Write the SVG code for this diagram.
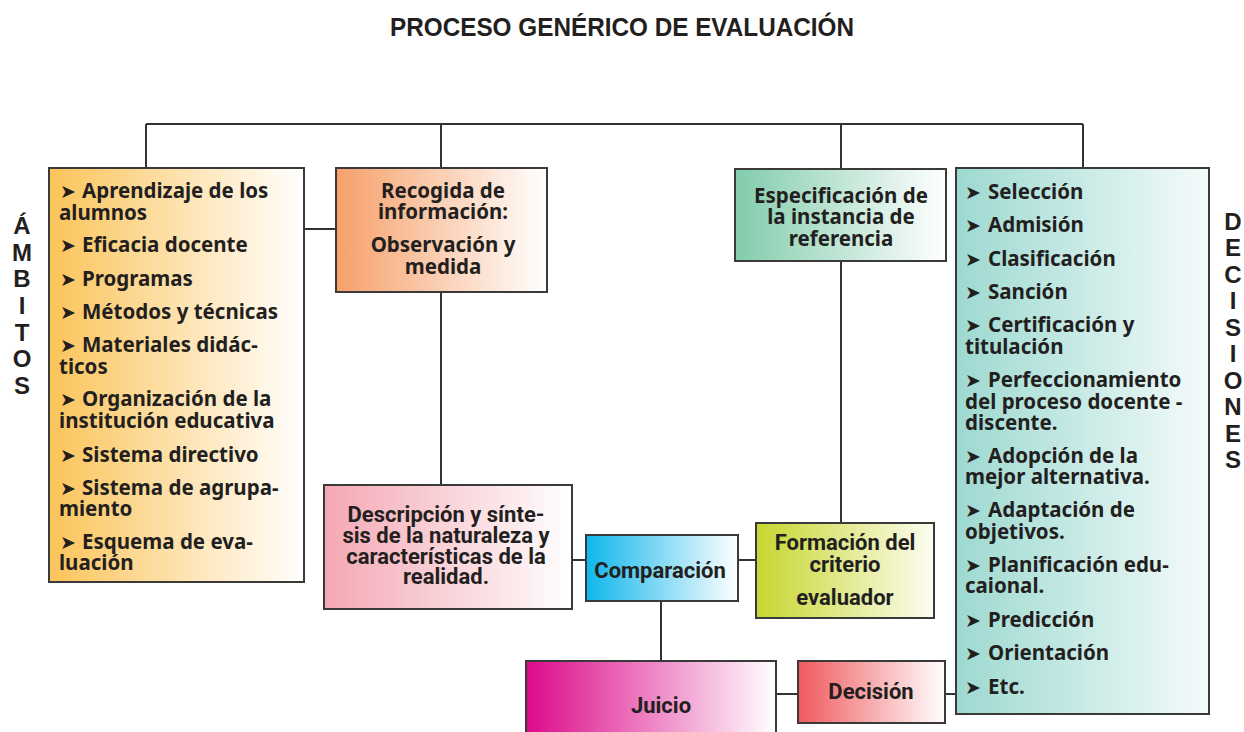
<svg xmlns="http://www.w3.org/2000/svg" width="1244" height="732" viewBox="0 0 1244 732">
<defs>
<linearGradient id="gAmb" x1="0" y1="0" x2="1" y2="0"><stop offset="0" stop-color="#FBC45A"/><stop offset="1" stop-color="#FFFFFF"/></linearGradient>
<linearGradient id="gRec" x1="0" y1="0" x2="1" y2="0"><stop offset="0" stop-color="#F6A06A"/><stop offset="1" stop-color="#FFFFFF"/></linearGradient>
<linearGradient id="gEsp" x1="0" y1="0" x2="1" y2="0"><stop offset="0" stop-color="#82CCAC"/><stop offset="1" stop-color="#FFFFFF"/></linearGradient>
<linearGradient id="gDec" x1="0" y1="0" x2="1" y2="0"><stop offset="0" stop-color="#9DD9D1"/><stop offset="1" stop-color="#F4FBFA"/></linearGradient>
<linearGradient id="gDes" x1="0" y1="0" x2="1" y2="0"><stop offset="0" stop-color="#F4A8B4"/><stop offset="1" stop-color="#FFFFFF"/></linearGradient>
<linearGradient id="gCom" x1="0" y1="0" x2="1" y2="0"><stop offset="0" stop-color="#0FB6EB"/><stop offset="1" stop-color="#FFFFFF"/></linearGradient>
<linearGradient id="gFor" x1="0" y1="0" x2="1" y2="0"><stop offset="0" stop-color="#C7D62E"/><stop offset="1" stop-color="#FDFDF2"/></linearGradient>
<linearGradient id="gJui" x1="0" y1="0" x2="1" y2="0"><stop offset="0" stop-color="#DC0A8A"/><stop offset="1" stop-color="#FFFFFF"/></linearGradient>
<linearGradient id="gDsn" x1="0" y1="0" x2="1" y2="0"><stop offset="0" stop-color="#EF5A5E"/><stop offset="1" stop-color="#FFFFFF"/></linearGradient>
</defs>
<style>
.box{stroke:#3a3a3a;stroke-width:2}
.con{fill:none;stroke:#333;stroke-width:2}
.t{font-family:"Noto Sans","Liberation Sans",sans-serif;font-weight:700;font-size:20.5px;fill:#231F20}
.c{text-anchor:middle}
.r{font-family:Roboto,"Liberation Sans",sans-serif;font-weight:700;font-size:22px;fill:#231F20;text-anchor:middle}
.ar{font-family:"DejaVu Sans",sans-serif;font-size:19px;fill:#231F20}
.v{font-family:"Liberation Sans",Arial,sans-serif;font-weight:700;font-size:24px;fill:#231F20;text-anchor:middle}
.title{font-family:"Liberation Sans",Arial,sans-serif;font-weight:700;font-size:26px;fill:#231F20;text-anchor:middle}
</style>
<rect width="1244" height="732" fill="#FFFFFF"/>
<text class="title" x="622" y="36" textLength="464" lengthAdjust="spacingAndGlyphs">PROCESO GENÉRICO DE EVALUACIÓN</text>

<g id="connectors">
<path class="con" d="M146,124 H1083 M146,124 V168 M441,124 V168 M841,124 V169 M1083,124 V168"/>
<path class="con" d="M304,229 H336 M441,292 V485 M841,261 V523 M572,560 H586 M738,560 H756 M661,601 V661 M776,694 H798 M945,694 H956"/>
</g>

<g id="ambitos-label">
<text class="v" x="22" y="234">Á</text>
<text class="v" x="22" y="261">M</text>
<text class="v" x="22" y="287">B</text>
<text class="v" x="22" y="314">I</text>
<text class="v" x="22" y="341">T</text>
<text class="v" x="22" y="367">O</text>
<text class="v" x="22" y="394">S</text>
</g>

<g id="ambitos">
<rect class="box" x="49" y="168" width="255" height="414" fill="url(#gAmb)"/>
<text class="ar" x="60" y="198">➤</text><text class="t" x="82" y="198">Aprendizaje de los</text>
<text class="t" x="59" y="220">alumnos</text>
<text class="ar" x="60" y="252">➤</text><text class="t" x="82" y="252">Eficacia docente</text>
<text class="ar" x="60" y="286">➤</text><text class="t" x="82" y="286">Programas</text>
<text class="ar" x="60" y="319">➤</text><text class="t" x="82" y="319">Métodos y técnicas</text>
<text class="ar" x="60" y="352">➤</text><text class="t" x="82" y="352">Materiales didác-</text>
<text class="t" x="59" y="374">ticos</text>
<text class="ar" x="60" y="406">➤</text><text class="t" x="82" y="406">Organización de la</text>
<text class="t" x="59" y="428">institución educativa</text>
<text class="ar" x="60" y="462">➤</text><text class="t" x="82" y="462">Sistema directivo</text>
<text class="ar" x="60" y="495">➤</text><text class="t" x="82" y="495">Sistema de agrupa-</text>
<text class="t" x="59" y="516">miento</text>
<text class="ar" x="60" y="549">➤</text><text class="t" x="82" y="549">Esquema de eva-</text>
<text class="t" x="59" y="570">luación</text>
</g>

<g id="recogida">
<rect class="box" x="336" y="168" width="211" height="124" fill="url(#gRec)"/>
<text class="t c" x="443" y="198">Recogida de</text>
<text class="t c" x="443" y="219">información:</text>
<text class="t c" x="443" y="252">Observación y</text>
<text class="t c" x="443" y="274">medida</text>
</g>

<g id="especificacion">
<rect class="box" x="735" y="169" width="211" height="92" fill="url(#gEsp)"/>
<text class="t c" x="841" y="203">Especificación de</text>
<text class="t c" x="841" y="224">la instancia de</text>
<text class="t c" x="841" y="246">referencia</text>
</g>

<g id="decisiones-label">
<text class="v" x="1233" y="230">D</text>
<text class="v" x="1233" y="256">E</text>
<text class="v" x="1233" y="283">C</text>
<text class="v" x="1233" y="309">I</text>
<text class="v" x="1233" y="336">S</text>
<text class="v" x="1233" y="362">I</text>
<text class="v" x="1233" y="389">O</text>
<text class="v" x="1233" y="415">N</text>
<text class="v" x="1233" y="442">E</text>
<text class="v" x="1233" y="468">S</text>
</g>

<g id="decisiones">
<rect class="box" x="956" y="168" width="253" height="546" fill="url(#gDec)"/>
<text class="ar" x="965" y="199">➤</text><text class="t" x="988" y="199">Selección</text>
<text class="ar" x="965" y="232">➤</text><text class="t" x="988" y="232">Admisión</text>
<text class="ar" x="965" y="266">➤</text><text class="t" x="988" y="266">Clasificación</text>
<text class="ar" x="965" y="299">➤</text><text class="t" x="988" y="299">Sanción</text>
<text class="ar" x="965" y="332">➤</text><text class="t" x="988" y="332">Certificación y</text>
<text class="t" x="965" y="354">titulación</text>
<text class="ar" x="965" y="387">➤</text><text class="t" x="988" y="387">Perfeccionamiento</text>
<text class="t" x="965" y="409">del proceso docente -</text>
<text class="t" x="965" y="430">discente.</text>
<text class="ar" x="965" y="463">➤</text><text class="t" x="988" y="463">Adopción de la</text>
<text class="t" x="965" y="484">mejor alternativa.</text>
<text class="ar" x="965" y="517">➤</text><text class="t" x="988" y="517">Adaptación de</text>
<text class="t" x="965" y="539">objetivos.</text>
<text class="ar" x="965" y="572">➤</text><text class="t" x="988" y="572">Planificación edu-</text>
<text class="t" x="965" y="593">caional.</text>
<text class="ar" x="965" y="627">➤</text><text class="t" x="988" y="627">Predicción</text>
<text class="ar" x="965" y="660">➤</text><text class="t" x="988" y="660">Orientación</text>
<text class="ar" x="965" y="694">➤</text><text class="t" x="988" y="694">Etc.</text>
</g>

<g id="descripcion">
<rect class="box" x="324" y="485" width="248" height="124" fill="url(#gDes)"/>
<text class="r" x="446" y="522">Descripción y sínte-</text>
<text class="r" x="446" y="543">sis de la naturaleza y</text>
<text class="r" x="446" y="564">características de la</text>
<text class="r" x="446" y="584">realidad.</text>
</g>

<g id="comparacion">
<rect class="box" x="586" y="535" width="152" height="66" fill="url(#gCom)"/>
<text class="r" x="660" y="578">Comparación</text>
</g>

<g id="formacion">
<rect class="box" x="756" y="523" width="178" height="95" fill="url(#gFor)"/>
<text class="r" x="845" y="550">Formación del</text>
<text class="r" x="845" y="572">criterio</text>
<text class="r" x="845" y="605">evaluador</text>
</g>

<g id="juicio">
<rect class="box" x="526" y="661" width="250" height="80" fill="url(#gJui)"/>
<text class="r" x="661" y="713">Juicio</text>
</g>

<g id="decision">
<rect class="box" x="798" y="661" width="147" height="62" fill="url(#gDsn)"/>
<text class="r" x="871" y="699">Decisión</text>
</g>
</svg>
